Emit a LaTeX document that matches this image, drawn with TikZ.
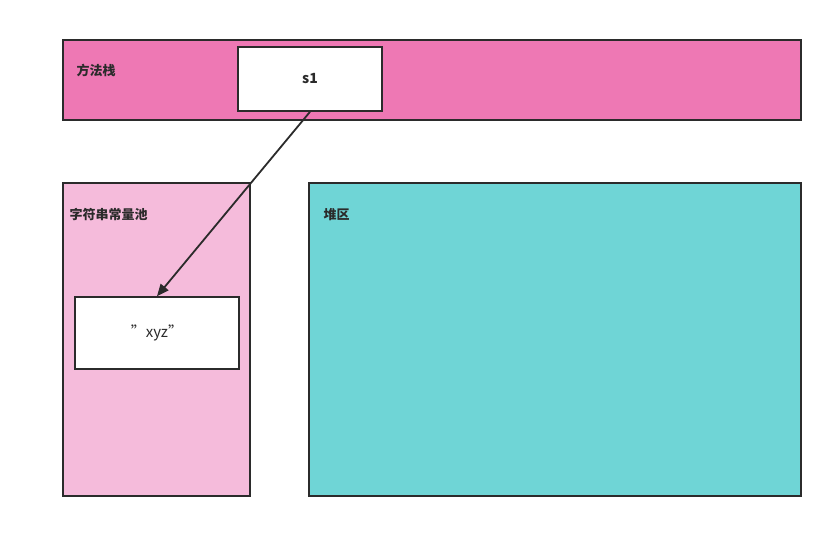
\documentclass[tikz,border=0pt]{standalone}
\usepackage{fontspec}
\setmainfont{Noto Sans CJK SC}
\usetikzlibrary{arrows.meta}
\definecolor{stackc}{HTML}{EE78B4}
\definecolor{poolc}{HTML}{F5BBDB}
\definecolor{heapc}{HTML}{6FD5D6}
\definecolor{linec}{HTML}{2B2B2B}
\begin{document}
\begin{tikzpicture}[x=1pt,y=-1pt,
  region/.style={draw=linec,line width=1.6pt},
  whitebox/.style={draw=linec,line width=1.6pt,fill=white},
  lbl/.style={anchor=west,font=\bfseries\fontsize{13}{15}\selectfont,text=linec}]
\useasboundingbox (0,0) rectangle (838,534);
\path[region,fill=stackc] (63,40) rectangle (801,120);
\node[lbl] (stk) at (73,70) {方法栈};
\path[region,fill=poolc] (63,183) rectangle (250,496);
\node[lbl] (pool) at (66,215) {字符串常量池};
\path[region,fill=heapc] (309,183) rectangle (801,496);
\node[lbl] (heap) at (320,215) {堆区};
\node[whitebox,minimum width=144pt,minimum height=64pt,font=\bfseries\fontsize{14}{16}\selectfont,text=linec] (s1) at (310,79) {s1};
\node[whitebox,minimum width=164pt,minimum height=72pt,font=\fontsize{15}{17}\selectfont,text=linec] (xyz) at (157,333) {"xyz"};
\draw[linec,line width=1.8pt,-{Triangle[length=12pt,width=10pt]}] (s1.south) -- (xyz.north);
\end{tikzpicture}
\end{document}
